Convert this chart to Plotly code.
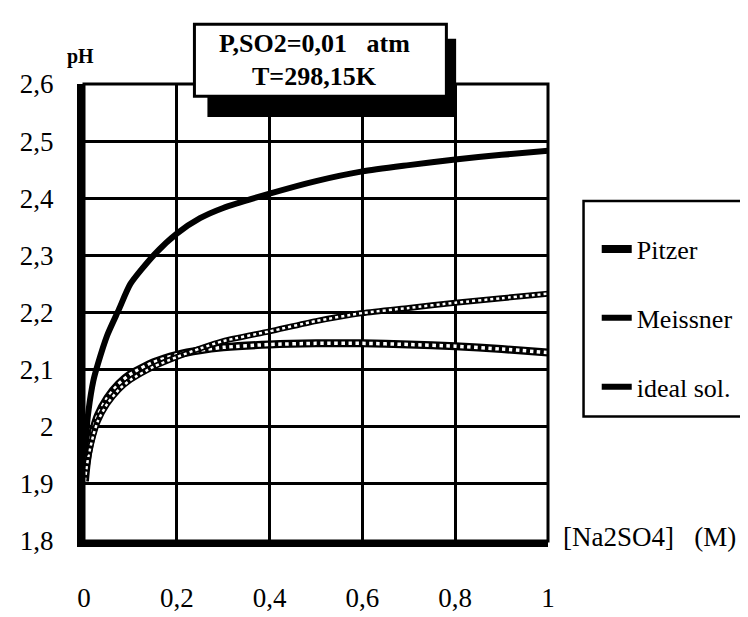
import plotly.graph_objects as go

# ---- data ----
conc = [0.002, 0.005, 0.01, 0.02, 0.03, 0.05, 0.075, 0.1, 0.15, 0.2, 0.25, 0.3,
        0.4, 0.5, 0.6, 0.7, 0.8, 0.9, 1.0]
ph_pitzer = [1.905, 1.93, 1.96, 1.995, 2.02, 2.05, 2.075, 2.092, 2.113, 2.126, 2.134,
             2.139, 2.144, 2.146, 2.146, 2.144, 2.141, 2.136, 2.13]
ph_meissner = [1.905, 1.925, 1.95, 1.985, 2.01, 2.04, 2.065, 2.082, 2.105, 2.122, 2.137,
               2.15, 2.167, 2.185, 2.199, 2.208, 2.217, 2.225, 2.233]
ph_ideal = [1.95, 1.99, 2.03, 2.08, 2.11, 2.16, 2.205, 2.25, 2.30, 2.338, 2.365,
            2.383, 2.408, 2.43, 2.447, 2.458, 2.468, 2.476, 2.483]

x_ticks = [0, 0.2, 0.4, 0.6, 0.8, 1]
x_ticktext = ["0", "0,2", "0,4", "0,6", "0,8", "1"]
y_ticks = [1.8, 1.9, 2.0, 2.1, 2.2, 2.3, 2.4, 2.5, 2.6]
y_ticktext = ["1,8", "1,9", "2", "2,1", "2,2", "2,3", "2,4", "2,5", "2,6"]

series_names = ["Pitzer", "Meissner", "ideal sol."]
box_lines = ["P,SO2=0,01\u00a0\u00a0\u00a0atm", "T=298,15K"]
x_title = "[Na2SO4]\u00a0\u00a0\u00a0(M)"
y_title = "pH"

SERIF = "Liberation Serif, Times New Roman, serif"

fig = go.Figure()

# Pitzer: chain of hollow squares (black base + white dotted core)
fig.add_trace(go.Scatter(x=conc, y=ph_pitzer, mode="lines", name=series_names[0],
                         legendgroup="p", line=dict(color="black", width=8, shape="spline", smoothing=0.6)))
fig.add_trace(go.Scatter(x=conc, y=ph_pitzer, mode="lines", showlegend=False, legendgroup="p",
                         line=dict(color="white", width=3.5, dash="dot", shape="spline", smoothing=0.6)))
# Meissner: thinner chain
fig.add_trace(go.Scatter(x=conc, y=ph_meissner, mode="lines", name=series_names[1],
                         legendgroup="m", line=dict(color="black", width=6, shape="spline", smoothing=0.6)))
fig.add_trace(go.Scatter(x=conc, y=ph_meissner, mode="lines", showlegend=False, legendgroup="m",
                         line=dict(color="white", width=2.5, dash="dot", shape="spline", smoothing=0.6)))
# ideal solution: thick solid line
fig.add_trace(go.Scatter(x=conc, y=ph_ideal, mode="lines", name=series_names[2],
                         legendgroup="i", line=dict(color="black", width=6, shape="spline", smoothing=0.6)))

fig.update_xaxes(range=[0, 1], tickvals=x_ticks, ticktext=x_ticktext,
                 showgrid=True, gridcolor="black", gridwidth=2.5,
                 showline=True, linecolor="black", linewidth=6,
                 zeroline=False, ticks="", ticklabelstandoff=28,
                 tickfont=dict(family=SERIF, size=27, color="black"))
fig.update_yaxes(range=[1.8, 2.6], tickvals=y_ticks, ticktext=y_ticktext,
                 showgrid=True, gridcolor="black", gridwidth=2.5,
                 showline=True, linecolor="black", linewidth=7,
                 zeroline=False, ticks="", ticklabelstandoff=18,
                 tickfont=dict(family=SERIF, size=27, color="black"))

shapes = [
    # plot frame (top/right)
    dict(type="rect", xref="paper", yref="paper", x0=0, x1=1, y0=0, y1=1,
         line=dict(color="black", width=3), layer="above"),
    # title box shadow
    dict(type="rect", xref="paper", yref="paper", x0=0.266, x1=0.802, y0=0.928, y1=1.099,
         fillcolor="black", line=dict(width=0), layer="above"),
    # title box
    dict(type="rect", xref="paper", yref="paper", x0=0.238, x1=0.781, y0=0.973, y1=1.131,
         fillcolor="white", line=dict(color="black", width=3), layer="above"),
    # legend box
    dict(type="rect", xref="paper", yref="paper", x0=1.0766, x1=1.44, y0=0.2727, y1=0.7438,
         fillcolor="rgba(0,0,0,0)", line=dict(color="black", width=2.5), layer="above"),
]

annotations = [
    dict(text="<b>" + box_lines[0] + "</b>", xref="paper", yref="paper", x=0.4957, y=1.0888,
         xanchor="center", yanchor="middle",
         showarrow=False, font=dict(family=SERIF, size=26, color="black")),
    dict(text="<b>" + box_lines[1] + "</b>", xref="paper", yref="paper", x=0.4957, y=1.0165,
         xanchor="center", yanchor="middle",
         showarrow=False, font=dict(family=SERIF, size=26, color="black")),
    dict(text="<b>" + y_title + "</b>", xref="paper", yref="paper", x=-0.0085, y=1.06,
         xanchor="center", yanchor="middle",
         showarrow=False, font=dict(family=SERIF, size=20, color="black")),
    dict(text=x_title, xref="paper", yref="paper", x=1.0277, y=0.008,
         xanchor="left", yanchor="middle",
         showarrow=False, font=dict(family=SERIF, size=27, color="black")),
]

fig.update_layout(
    width=748, height=617,
    margin=dict(l=70, r=208, t=76, b=57),
    paper_bgcolor="white", plot_bgcolor="white",
    shapes=shapes, annotations=annotations,
    showlegend=True,
    legend=dict(x=1.105, y=0.69, xanchor="left", yanchor="top",
                bgcolor="rgba(0,0,0,0)", borderwidth=0,
                traceorder="grouped", tracegroupgap=32,
                font=dict(family=SERIF, size=26, color="black")),
)

fig.write_html("out.html")
